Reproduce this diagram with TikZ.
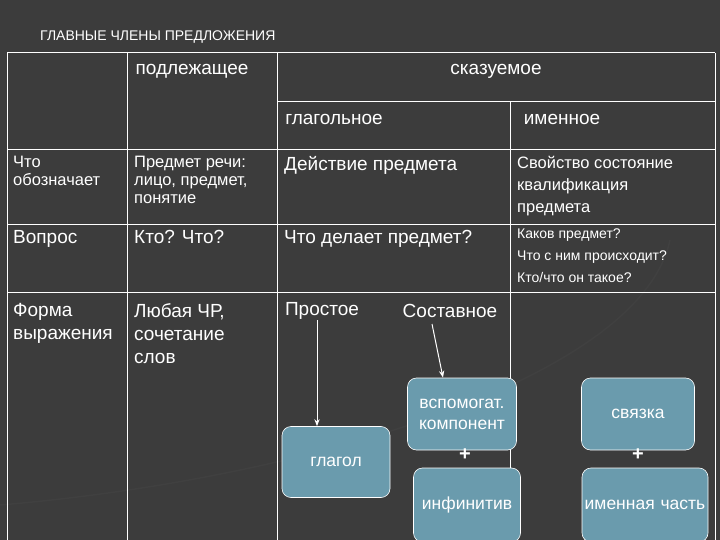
\documentclass[tikz,border=0pt]{standalone}
\usepackage{fontspec}
\setmainfont{Liberation Sans}
\usetikzlibrary{arrows.meta}
\definecolor{bg}{HTML}{3C3C3C}
\definecolor{boxc}{HTML}{6A9BAD}
\tikzset{
 grid/.style={white,line width=1pt},
 txt/.style={white,anchor=north west,inner sep=0,align=left,font=\fontsize{16.5}{18}\selectfont},
 hdr/.style={white,inner sep=0,font=\fontsize{19}{21}\selectfont},
 rbox/.style={draw=white,fill=boxc,rounded corners=9pt,line width=0.6pt,text=white,align=center,inner sep=1pt,font=\fontsize{17.5}{21}\selectfont},
 arr/.style={white,line width=1pt,-{Stealth[length=7pt]}}
}
\begin{document}
\begin{tikzpicture}[x=1pt,y=-1pt]
\fill[bg] (0,0) rectangle (720,540);
\useasboundingbox (0,0) rectangle (720,540);
\draw[black!75,line width=1.5pt] (0,505) .. controls (300,480) and (640,380) .. (670,240);
\draw[grid] (7,53) -- (715,53) (7,150) -- (715,150) (7,225) -- (715,225) (7,292) -- (715,292) (277,102) -- (715,102);
\draw[grid] (7,53) -- (7,540) (127,53) -- (127,540) (277,53) -- (277,540) (510,102) -- (510,540) (715,53) -- (715,540);
\node[white,anchor=west,inner sep=0,font=\fontsize{14}{15}\selectfont] (title) at (40,37) {ГЛАВНЫЕ ЧЛЕНЫ ПРЕДЛОЖЕНИЯ};
\node[hdr] (pod) at (192,71) {подлежащее};
\node[hdr] (sk) at (496,71) {сказуемое};
\node[hdr] (gl) at (334,119) {глагольное};
\node[hdr] (im) at (562,119) {именное};
\node[txt] (c1) at (13,156) {Что\\обозначает};
\node[txt] (c2) at (134,156) {Предмет речи:\\лицо, предмет,\\понятие};
\node[txt,font=\fontsize{19}{21}\selectfont] (c3) at (284,156) {Действие предмета};
\node[txt,font=\fontsize{16.5}{22}\selectfont] (c4) at (517,156) {Свойство состояние\\квалификация\\предмета};
\node[txt,font=\fontsize{19}{21}\selectfont] (d1) at (13,230) {Вопрос};
\node[txt,font=\fontsize{19}{21}\selectfont] (d2) at (134,230) {Кто? Что?};
\node[txt,font=\fontsize{19}{21}\selectfont] (d3) at (284,230) {Что делает предмет?};
\node[txt,font=\fontsize{14}{22}\selectfont] (d4) at (517,229) {Каков предмет?\\Что с ним происходит?\\Кто/что он такое?};
\node[txt,font=\fontsize{19}{23}\selectfont] (e1) at (13,303) {Форма\\выражения};
\node[txt,font=\fontsize{19}{23}\selectfont] (e2) at (134,303) {Любая ЧР,\\сочетание\\слов};
\node[hdr] (pr) at (322,311) {Простое};
\node[hdr] (so) at (450,311) {Составное};
\node[rbox,minimum width=108pt,minimum height=71pt] (glagol) at (336,462) {глагол};
\node[rbox,minimum width=109pt,minimum height=72pt] (vsp) at (462,414) {вспомогат.\\компонент};
\node[rbox,minimum width=107pt,minimum height=74pt] (inf) at (467,505) {инфинитив};
\node[rbox,minimum width=113pt,minimum height=72pt] (sv) at (638,414) {связка};
\node[rbox,minimum width=126pt,minimum height=74pt,text width=124pt] (imch) at (645,505) {именная часть};
\node[white,font=\fontsize{20}{20}\selectfont\bfseries] (p1) at (465,455) {+};
\node[white,font=\fontsize{20}{20}\selectfont\bfseries] (p2) at (638,455) {+};
\draw[arr] (317,320) -- (glagol.north -| 317,0);
\draw[arr] (432,324) -- (vsp.north -| 443,0);
\end{tikzpicture}
\end{document}
